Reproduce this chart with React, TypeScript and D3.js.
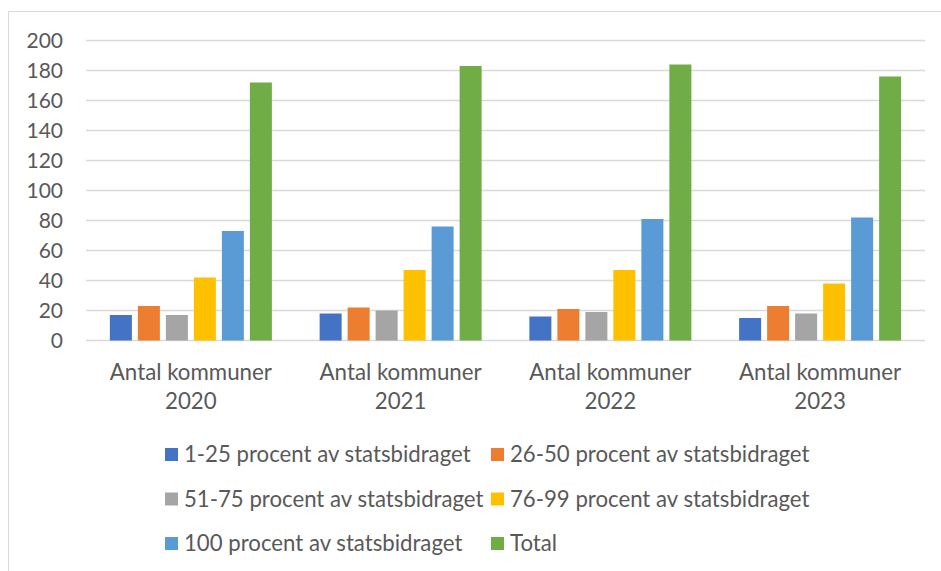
import React from 'react';
import * as d3 from 'd3';

// data
const categories = ['2020', '2021', '2022', '2023'];
const seriesNames = [
  '1-25 procent av statsbidraget',
  '26-50 procent av statsbidraget',
  '51-75 procent av statsbidraget',
  '76-99 procent av statsbidraget',
  '100 procent av statsbidraget',
  'Total',
];
const s1to25 = [17, 18, 16, 15];
const s26to50 = [23, 22, 21, 23];
const s51to75 = [17, 20, 19, 18];
const s76to99 = [42, 47, 47, 38];
const s100 = [73, 76, 81, 82];
const total = [172, 183, 184, 176];
const yTicks = [0, 20, 40, 60, 80, 100, 120, 140, 160, 180, 200];

const colors = ['#4472C4', '#ED7D31', '#A5A5A5', '#FFC000', '#5B9BD5', '#70AD47'];
const allSeries = [s1to25, s26to50, s51to75, s76to99, s100, total];

const W = 941, H = 571;
const font = 'Lato, "Liberation Sans", sans-serif';

export default function App() {
  const plot = { left: 86, right: 925, top: 40.5, bottom: 340.5 };

  const x0 = d3.scaleBand<string>().domain(categories).range([plot.left, plot.right]).padding(0);
  const groupW = 162;
  const x1 = d3.scaleBand<string>().domain(seriesNames).range([0, groupW]).paddingInner(0.214).paddingOuter(0);
  const y = d3.scaleLinear().domain([0, 200]).range([plot.bottom, plot.top]);

  const legendCols = [165, 491];
  const legendRows = [454.5, 499, 543.5];

  return (
    <svg width={W} height={H} style={{ position: 'absolute', left: 0, top: 0, background: '#fff' }} fontFamily={font}>
      {/* chart border (cut off at right/bottom) */}
      <rect x={8.5} y={11.5} width={W + 10} height={H + 10} fill="none" stroke="#d9d9d9" strokeWidth={1} />

      {yTicks.map((t) => (
        <g key={t}>
          <line x1={plot.left} x2={plot.right} y1={y(t)} y2={y(t)} stroke="#d9d9d9" strokeWidth={1.5} />
          <text x={63} y={y(t)} dy="0.36em" textAnchor="end" fontSize={21} fill="#595959">{t}</text>
        </g>
      ))}

      {categories.map((c, ci) => {
        const gx = (x0(c) as number) + (x0.bandwidth() - groupW) / 2;
        const cx = (x0(c) as number) + x0.bandwidth() / 2;
        return (
          <g key={c}>
            {allSeries.map((vals, si) => (
              <rect
                key={si}
                x={gx + (x1(seriesNames[si]) as number)}
                y={y(vals[ci])}
                width={x1.bandwidth()}
                height={y(0) - y(vals[ci])}
                fill={colors[si]}
              />
            ))}
            <text x={cx} y={379.5} textAnchor="middle" fontSize={22.3} fill="#595959">
              Antal kommuner
            </text>
            <text x={cx} y={408.5} textAnchor="middle" fontSize={22.3} fill="#595959">
              {c}
            </text>
          </g>
        );
      })}

      {seriesNames.map((name, i) => {
        const lx = legendCols[i % 2];
        const ly = legendRows[Math.floor(i / 2)];
        return (
          <g key={name}>
            <rect x={lx} y={ly - 6.5} width={13} height={13} fill={colors[i]} />
            <text x={lx + 19} y={ly} dy="0.36em" fontSize={22.2} fill="#595959">{name}</text>
          </g>
        );
      })}
    </svg>
  );
}
